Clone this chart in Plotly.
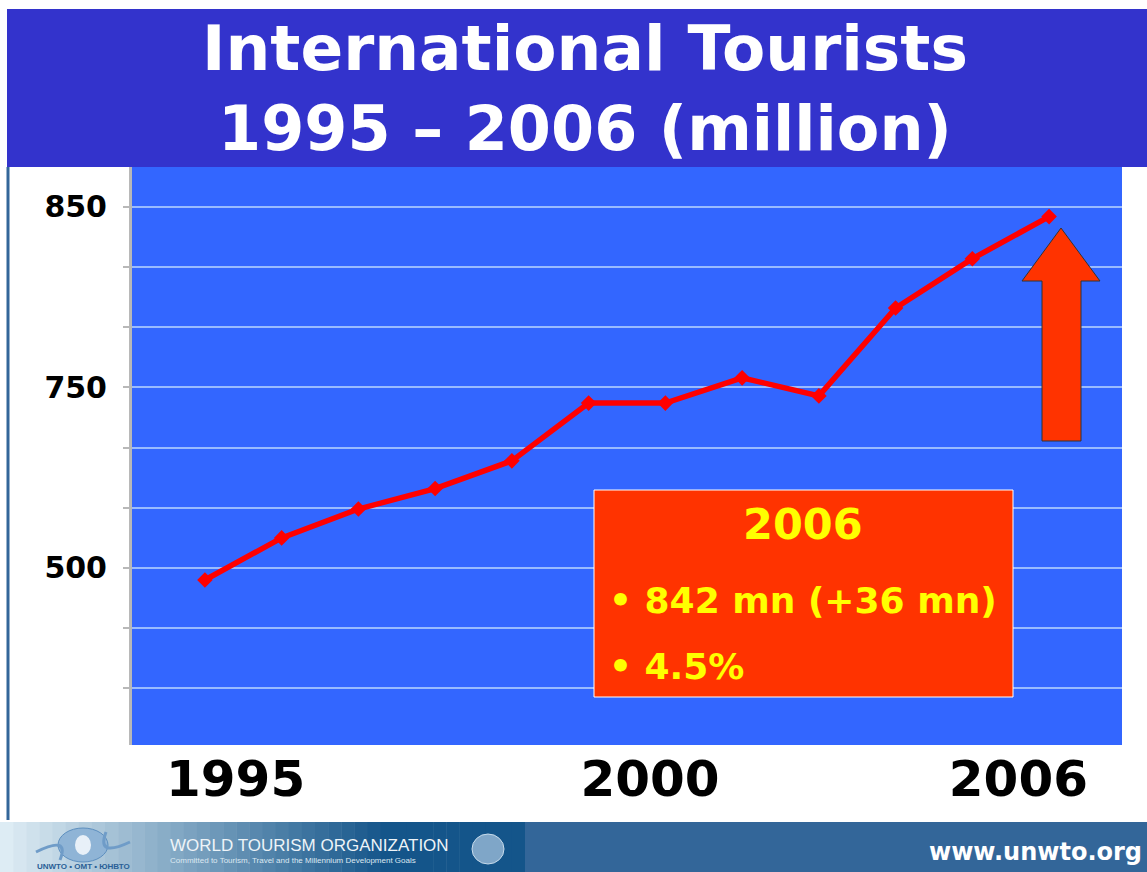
import plotly.graph_objects as go
import numpy as np

years = [1995, 1996, 1997, 1998, 1999, 2000, 2001, 2002, 2003, 2004, 2005, 2006]
tourists = [540, 575, 599, 616, 639, 687, 687, 708, 693, 766, 807, 842]

grid_vals = [450, 500, 550, 600, 650, 700, 750, 800, 850]
grid_text = ["", "", "500", "", "", "750", "", "", "850"]
# the original slide labels these gridlines 500 / 750 / 850
xtick_vals = [1995.4, 2000.8, 2005.6]
xtick_text = ["1995", "2000", "2006"]

W, H = 1147, 872
def px(x):
    return x / W
def py(y):
    return 1 - y / H

FONT = "DejaVu Sans"
FONT2 = "Liberation Sans"

fig = go.Figure()
fig.add_trace(go.Scatter(
    x=years, y=tourists, mode="lines+markers",
    line=dict(color="#ff0000", width=5.5),
    marker=dict(symbol="diamond", size=12, color="#ff0000"),
    hoverinfo="x+y", showlegend=False,
))

shapes = []
# title band
shapes.append(dict(type="rect", xref="paper", yref="paper", x0=px(7), x1=px(1147), y0=py(167), y1=py(9),
                   fillcolor="#3333cc", line=dict(width=0), layer="below"))
# left border line
shapes.append(dict(type="line", xref="paper", yref="paper", x0=px(8), x1=px(8), y0=py(167), y1=py(820),
                   line=dict(color="#336699", width=3)))
# footer gradient strips
c0 = np.array([0xdd, 0xec, 0xf4]); c1 = np.array([0x14, 0x55, 0x8a])
n = 40
for i in range(n):
    t = i / (n - 1)
    t2 = min(1.0, t * 1.35)
    c = (c0 * (1 - t2) + c1 * t2).astype(int)
    x0 = 525 * i / n; x1 = 525 * (i + 1) / n + 0.5
    shapes.append(dict(type="rect", xref="paper", yref="paper", x0=px(x0), x1=px(x1), y0=py(872), y1=py(822),
                       fillcolor="rgb(%d,%d,%d)" % tuple(c), line=dict(width=0), layer="above"))
shapes.append(dict(type="rect", xref="paper", yref="paper", x0=px(525), x1=px(1147), y0=py(872), y1=py(822),
                   fillcolor="#336699", line=dict(width=0), layer="above"))
# logo globe
shapes.append(dict(type="circle", xref="paper", yref="paper", x0=px(58), x1=px(108), y0=py(862), y1=py(828),
                   fillcolor="#8fb4d6", line=dict(color="#5d8fbf", width=1), layer="above"))
shapes.append(dict(type="circle", xref="paper", yref="paper", x0=px(75), x1=px(91), y0=py(855), y1=py(835),
                   fillcolor="#e8f0f8", line=dict(width=0), layer="above"))
shapes.append(dict(type="path", xref="paper", yref="paper",
                   path="M %.5f,%.5f Q %.5f,%.5f %.5f,%.5f" % (px(36), py(852), px(70), py(835), px(60), py(860)),
                   line=dict(color="#6f9cc8", width=3), layer="above"))
shapes.append(dict(type="path", xref="paper", yref="paper",
                   path="M %.5f,%.5f Q %.5f,%.5f %.5f,%.5f" % (px(130), py(842), px(96), py(858), px(106), py(832)),
                   line=dict(color="#6f9cc8", width=3), layer="above"))
# UN emblem
shapes.append(dict(type="circle", xref="paper", yref="paper", x0=px(472), x1=px(504), y0=py(864), y1=py(834),
                   fillcolor="#7fa6c8", line=dict(color="#c8dcec", width=1), layer="above"))
# info box
shapes.append(dict(type="rect", xref="paper", yref="paper", x0=px(594), x1=px(1013), y0=py(697), y1=py(490),
                   fillcolor="#ff3300", line=dict(color="#ffffff", width=1), layer="above"))
# up arrow
pts = [(1061, 228), (1100, 281), (1081, 281), (1081, 441), (1042, 441), (1042, 281), (1022, 281)]
path = "M " + " L ".join("%.5f,%.5f" % (px(x), py(y)) for x, y in pts) + " Z"
shapes.append(dict(type="path", xref="paper", yref="paper", path=path,
                   fillcolor="#ff3300", line=dict(color="#333333", width=1), layer="above"))

annotations = []
def ann(text, x, y, size, color, xanchor="center", yanchor="middle", family=FONT):
    annotations.append(dict(text=text, x=px(x), y=py(y), xref="paper", yref="paper", showarrow=False,
                            xanchor=xanchor, yanchor=yanchor,
                            font=dict(family=family, size=size, color=color)))

ann("<b>International Tourists</b>", 585, 48, 63, "#ffffff")
ann("<b>1995 – 2006 (million)</b>", 585, 128, 62, "#ffffff")
ann("<b>2006</b>", 803, 524, 43, "#ffff00")
ann("<b>• 842 mn (+36 mn)</b>", 607, 600, 36, "#ffff00", xanchor="left")
ann("<b>• 4.5%</b>", 607, 666, 36, "#ffff00", xanchor="left")
ann("WORLD TOURISM ORGANIZATION", 168, 845, 17, "#eef4f8", xanchor="left", family=FONT2)
ann("Committed to Tourism, Travel and the Millennium Development Goals", 168, 860, 8, "#dce8f2", xanchor="left", family=FONT2)
ann("<b>UNWTO • OMT • ЮНВТО</b>", 35, 866, 8, "#2a5f96", xanchor="left", family=FONT2)
ann("<b>www.unwto.org</b>", 1144, 852, 24, "#ffffff", xanchor="right")

fig.update_layout(
    width=W, height=H,
    margin=dict(l=0, r=0, t=0, b=0),
    paper_bgcolor="#ffffff",
    plot_bgcolor="#3366ff",
    shapes=shapes,
    annotations=annotations,
    xaxis=dict(
        domain=[px(132), px(1122)],
        range=[1994.05, 2006.95],
        tickmode="array", tickvals=xtick_vals, ticktext=xtick_text,
        tickfont=dict(family=FONT, size=50, color="#000000", weight="bold"),
        showgrid=False, zeroline=False, showline=False, ticks="",
    ),
    yaxis=dict(
        domain=[py(745), py(167)],
        range=[402.9, 883.2],
        tickmode="array", tickvals=grid_vals, ticktext=grid_text,
        tickfont=dict(family=FONT, size=30, color="#000000", weight="bold"),
        showgrid=True, gridcolor="#99bbff", gridwidth=2,
        zeroline=False, showline=True, linecolor="#b8b8b8", linewidth=3,
        ticks="outside", ticklen=6, tickcolor="#b8b8b8", tickwidth=2,
        ticklabelstandoff=10,
    ),
)

fig.write_html("out.html")
